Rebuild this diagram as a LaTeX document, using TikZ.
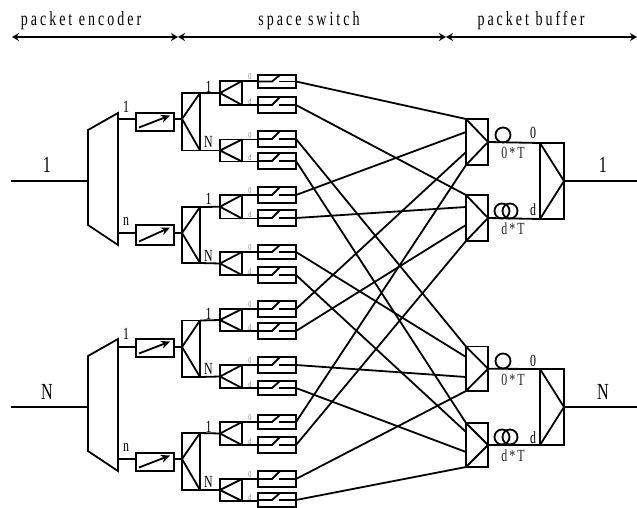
\documentclass[tikz,border=0pt]{standalone}
\usepackage{fontspec}
\setmainfont{Liberation Serif}
\newfontfamily\narrowsp[FakeStretch=0.7,LetterSpace=15]{Liberation Serif}
\newfontfamily\narrowspb[FakeStretch=0.7,LetterSpace=12]{Liberation Serif}
\newfontfamily\narrow[FakeStretch=0.7]{Liberation Serif}
\usetikzlibrary{arrows.meta,calc}
\tikzset{
  wire/.style={line width=1.8pt,line cap=butt},
  boxed/.style={draw,line width=1.8pt,rectangle,inner sep=0pt,outer sep=0pt},
  splitter/.style={boxed,minimum width=18pt},
  smallsplit/.style={boxed,minimum width=22pt},
  switchbox/.style={boxed,minimum width=38pt},
  delaybox/.style={boxed,minimum width=38pt},
  bufbox/.style={boxed,minimum width=22pt},
  combbox/.style={boxed,minimum width=24pt},
  loopc/.style={draw,circle,line width=1.8pt,inner sep=0pt,outer sep=0pt,minimum size=15pt},
  span/.style={line width=1.6pt,{Stealth[length=7pt,width=8pt]}-{Stealth[length=7pt,width=8pt]}},
  head/.style={font=\narrowsp\fontsize{20}{20}\selectfont,inner sep=0pt},
  big/.style={font=\narrow\fontsize{23}{23}\selectfont,inner sep=0pt},
  mid/.style={font=\narrow\fontsize{17}{17}\selectfont,inner sep=0pt},
  tiny/.style={font=\narrow\fontsize{9}{9}\selectfont,inner sep=0pt,text=black!50},
  delaylab/.style={font=\narrowspb\fontsize{17}{17}\selectfont,inner sep=0pt,text=black!85},
}
\begin{document}
\begin{tikzpicture}[x=1pt,y=-1pt]
\useasboundingbox (0,0) rectangle (637,508);
% header
\coordinate (h0) at (12,37); \coordinate (h1) at (178,37); \coordinate (h2) at (446,37); \coordinate (h3) at (637,37);
\draw[span] (h0) -- (h1);
\draw[span] (h1) -- (h2);
\draw[span] (h2) -- (h3);
\node[head] (t1) at (81,21) {packet encoder};
\node[head] (t2) at (309,21) {space switch};
\node[head] (t3) at (531,21) {packet buffer};
% encoders
\foreach \n/\o in {1/0,2/226}{
  \coordinate (mA\n) at (88,130+\o); \coordinate (mB\n) at (118,113+\o);
  \coordinate (mC\n) at (118,245+\o); \coordinate (mD\n) at (88,225+\o);
  \draw[wire,line join=miter] (mA\n) -- (mB\n) -- (mC\n) -- (mD\n) -- cycle;
  \coordinate (in\n) at (11,181+\o);
  \coordinate (mI\n) at (88,181+\o);
  \draw[wire] (in\n) -- (mI\n);
}
\node[big] (lin1) at (47,165) {1};
\node[big] (linN) at (47,392) {N};
% delay boxes
\foreach \n/\t/\b/\y in {1/113/131/119,2/225/245/233,3/339/357/347,4/453/471/459}{
  \node[delaybox,minimum height={(\b-\t)*1pt}] (D\n) at (155,{(\t+\b)/2}) {};
  \coordinate (mo\n) at (118,\y);
  \coordinate (do\n) at (136,\y);
  \coordinate (dp\n) at (174,\y);
  \coordinate (as\n) at (139,\b-3.5);
  \coordinate (ae\n) at (170,\t+2.5);
  \draw[wire] (mo\n) -- (do\n);
  \draw[wire,-{Stealth[length=9pt,width=8pt]}] (as\n) -- (ae\n);
}
\foreach \n/\l/\y in {a/1/107,b/n/221,c/1/334,d/n/447}{
  \node[mid] (ml\n) at (126,\y) {\l};
}
% large splitters
\foreach \n/\t/\b/\y in {1/93/150.5/119,2/207/263/233,3/320.5/377/347,4/433/490/459}{
  \node[splitter,minimum height={(\b-\t)*1pt}] (L\n) at (191,{(\t+\b)/2}) {};
  \coordinate (la\n) at (182,\y);
  \draw[wire] (dp\n) -- (la\n);
  \draw[wire] (L\n.north east) -- (la\n) -- (L\n.south east);
}
\foreach \n/\l/\y in {a/1/87,b/N/142,c/1/199,d/N/256,e/1/314,f/N/369,g/1/427,h/N/482}{
  \node[mid] (sl\n) at (208.5,\y) {\l};
}
% small splitters
\foreach \n/\t/\b in {1/81/105,2/139.5/161.5,3/195/218.5,4/252/275,5/309/331,6/365/388,7/422/445,8/479/501}{
  \node[smallsplit,minimum height={(\b-\t)*1pt}] (T\n) at (231,{(\t+\b)/2}) {};
  \draw[wire] (T\n.north east) -- (T\n.west) -- (T\n.south east);
}
\draw[wire] (L1.north east) -- (T1.west);
\draw[wire] (L1.south east) -- (T2.west);
\draw[wire] (L2.north east) -- (T3.west);
\draw[wire] (L2.south east) -- (T4.west);
\draw[wire] (L3.north east) -- (T5.west);
\draw[wire] (L3.south east) -- (T6.west);
\draw[wire] (L4.north east) -- (T7.west);
\draw[wire] (L4.south east) -- (T8.west);
% switches
\foreach \n/\t/\b/\s/\c/\l in {1/75/88/1/north/0,2/97/113/1/south/d,3/131/147/2/north/0,4/153/169/2/south/d,5/187/203/3/north/0,6/210/226/3/south/d,7/245/259/4/north/0,8/267/283/4/south/d,9/301/317/5/north/0,10/323/339/5/south/d,11/357/373/6/north/0,12/381/395/6/south/d,13/415/429/7/north/0,14/437/453/7/south/d,15/471/487/8/north/0,16/493/507/8/south/d}{
  \node[switchbox,minimum height={(\b-\t)*1pt}] (S\n) at (277,{(\t+\b)/2}) {};
  \coordinate (sp\n) at (T\s.\c\space east);
  \draw[wire] (sp\n) -- (sp\n -| S\n.west);
  \coordinate (ca\n) at (S\n.west -| 272,0);
  \coordinate (cb\n) at (280,\t);
  \coordinate (cc\n) at (279,{(\t+\b)/2});
  \draw[wire] (S\n.west) -- (ca\n) -- (cb\n);
  \draw[wire] (cc\n) -- (S\n.east);
  \node[tiny] (tl\n) at ($(sp\n)+(8,-4)$) {\l};
}
% buffers
\foreach \n/\t/\b in {1/119/165,2/195/241,3/346.5/391,4/423/467}{
  \node[bufbox,minimum height={(\b-\t)*1pt}] (B\n) at (477,{(\t+\b)/2}) {};
  \draw[wire] (B\n.north west) -- (B\n.east) -- (B\n.south west);
}
% crossbar wiring: inputs on the left side of the buffers
\foreach \s/\y in {1/119,5/132,9/152,13/165,2/195,6/207,10/225,14/241,3/346.5,7/357,11/377,15/391,4/423,8/432,12/452,16/467}{
  \coordinate (bi\s) at (466,\y);
  \draw[wire] (S\s.east) -- (bi\s);
}
% combiners
\foreach \n/\a/\b/\t/\bb in {1/1/2/143/219,2/3/4/369/445}{
  \node[combbox,minimum height={(\bb-\t)*1pt}] (C\n) at (552,{(\t+\bb)/2}) {};
  \draw[wire] (C\n.north west) -- (C\n.east) -- (C\n.south west);
  \draw[wire] (B\a.east) -- (C\n.north west);
  \draw[wire] (B\b.east) -- (C\n.south west);
  \coordinate (out\n) at (637,{(\t+\bb)/2});
  \draw[wire] (C\n.east) -- (out\n);
}
\node[big] (lo1) at (603,165) {1};
\node[big] (loN) at (603,392) {N};
% fibre delay loops
\node[loopc] (lp1) at (503,135) {};
\node[loopc] (lp2a) at (502,211) {};
\node[loopc] (lp2b) at (510,211) {};
\node[loopc] (lp3) at (503,361) {};
\node[loopc] (lp4a) at (502,437) {};
\node[loopc] (lp4b) at (510,437) {};
\node[delaylab] (dl1) at (513,153) {0*T};
\node[delaylab] (dl2) at (513,229) {d*T};
\node[delaylab] (dl3) at (513,380) {0*T};
\node[delaylab] (dl4) at (513,456) {d*T};
\node[mid] (zl1) at (533,133) {0};
\node[mid] (zl2) at (533,210) {d};
\node[mid] (zl3) at (533,361) {0};
\node[mid] (zl4) at (533,438) {d};
\end{tikzpicture}
\end{document}
